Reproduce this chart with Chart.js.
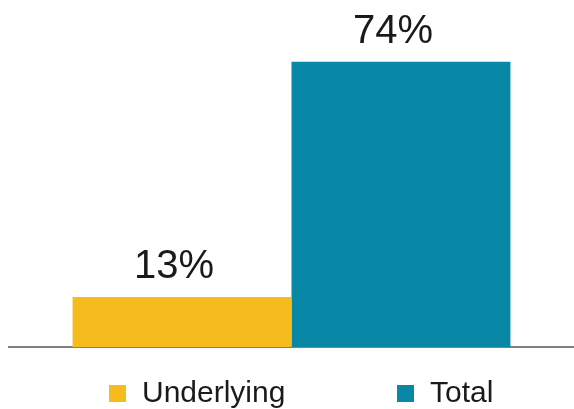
<!DOCTYPE html>
<html>
<head>
<meta charset="utf-8">
<script src="https://cdn.jsdelivr.net/npm/chart.js@4/dist/chart.umd.min.js"></script>
<style>
    html, body { margin: 0; padding: 0; background: #fff; }
    #wrap { width: 574px; height: 409px; }
</style>
</head>
<body>
<div id="wrap"><canvas id="chart" width="574" height="409"></canvas></div>
<script>
// Chart data
const categories = [''];
const seriesNames = ['Underlying', 'Total'];
const underlyingValues = [13];
const totalValues = [74];
const seriesColors = ['#F6BB1D', '#0888A6'];

const FONT = '"Liberation Sans", Arial, sans-serif';

// Percent labels above the bars
const barLabels = {
    id: 'barLabels',
    afterDatasetsDraw(chart) {
        const ctx = chart.ctx;
        ctx.save();
        ctx.font = '40px ' + FONT;
        ctx.fillStyle = '#1a1a1a';
        ctx.textAlign = 'center';
        ctx.textBaseline = 'alphabetic';
        chart.data.datasets.forEach((ds, i) => {
            chart.getDatasetMeta(i).data.forEach((bar, j) => {
                ctx.fillText(ds.data[j] + '%', bar.x - 8, bar.y - 19);
            });
        });
        ctx.restore();
    }
};

// Legend drawn at the bottom, spaced like the original
const bottomLegend = {
    id: 'bottomLegend',
    afterDraw(chart) {
        const ctx = chart.ctx;
        const boxX = [109, 397];
        ctx.save();
        ctx.font = '30px ' + FONT;
        ctx.textBaseline = 'alphabetic';
        ctx.textAlign = 'left';
        chart.data.datasets.forEach((ds, i) => {
            ctx.fillStyle = ds.backgroundColor;
            ctx.fillRect(boxX[i], 385, 17, 17);
            ctx.fillStyle = '#1a1a1a';
            ctx.fillText(ds.label, boxX[i] + 33, 402);
        });
        ctx.restore();
    }
};

new Chart(document.getElementById('chart').getContext('2d'), {
    type: 'bar',
    data: {
        labels: categories,
        datasets: [
            { label: seriesNames[0], data: underlyingValues, backgroundColor: seriesColors[0] },
            { label: seriesNames[1], data: totalValues, backgroundColor: seriesColors[1] }
        ]
    },
    options: {
        responsive: false,
        animation: false,
        layout: { padding: { left: 9, right: 0, top: 0, bottom: 62 } },
        categoryPercentage: 0.775,
        barPercentage: 1,
        plugins: {
            legend: { display: false },
            tooltip: { enabled: false }
        },
        scales: {
            x: {
                grid: { display: false, drawTicks: false },
                ticks: { display: false },
                border: { display: true, color: '#808080', width: 2 }
            },
            y: {
                display: false,
                min: 0,
                max: 90
            }
        }
    },
    plugins: [barLabels, bottomLegend]
});
</script>
</body>
</html>
